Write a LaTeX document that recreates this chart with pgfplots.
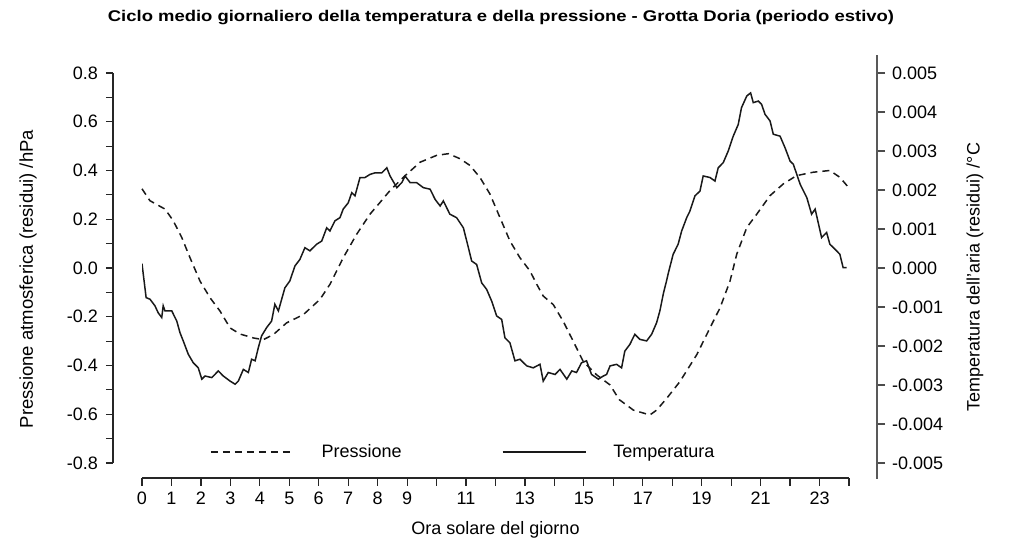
\documentclass[border=0pt]{standalone}
\usepackage{fontspec}
\setmainfont{Liberation Sans}
\usepackage{pgfplots}
\pgfplotsset{compat=1.18}
\usepackage{pgfplotstable}

\pgfplotstableread{
h p
0.00 0.325
0.27 0.276
0.67 0.249
0.78 0.242
1.06 0.194
1.35 0.125
1.63 0.042
1.97 -0.054
2.31 -0.122
2.65 -0.177
2.99 -0.246
3.33 -0.271
3.78 -0.287
4.12 -0.294
4.46 -0.273
4.91 -0.225
5.48 -0.191
6.04 -0.129
6.38 -0.067
6.83 0.042
7.29 0.139
7.74 0.221
8.08 0.269
8.42 0.318
8.87 0.372
9.44 0.434
10.00 0.462
10.40 0.469
10.80 0.448
11.13 0.421
11.47 0.372
11.81 0.304
12.15 0.207
12.49 0.111
12.83 0.042
13.17 -0.012
13.40 -0.067
13.62 -0.115
13.96 -0.150
14.30 -0.219
14.64 -0.301
14.98 -0.384
15.43 -0.438
15.89 -0.480
16.20 -0.540
16.68 -0.583
17.24 -0.603
17.47 -0.583
17.81 -0.535
18.26 -0.466
18.83 -0.356
19.28 -0.246
19.62 -0.164
19.96 -0.054
20.19 0.057
20.53 0.166
20.87 0.221
21.32 0.297
21.77 0.345
22.22 0.379
22.79 0.393
23.35 0.400
23.69 0.372
23.98 0.331
}\pressione

\pgfplotstableread{
h t
0.00 0.00011
0.14 -0.00076
0.27 -0.00080
0.44 -0.00097
0.55 -0.00115
0.67 -0.00127
0.72 -0.00097
0.78 -0.00110
1.01 -0.00110
1.18 -0.00136
1.29 -0.00166
1.40 -0.00187
1.57 -0.00221
1.74 -0.00243
1.91 -0.00256
2.03 -0.00285
2.14 -0.00277
2.37 -0.00281
2.59 -0.00264
2.76 -0.00277
2.99 -0.00290
3.16 -0.00298
3.27 -0.00290
3.44 -0.00260
3.61 -0.00268
3.72 -0.00234
3.84 -0.00238
3.95 -0.00204
4.06 -0.00174
4.23 -0.00153
4.40 -0.00136
4.51 -0.00093
4.63 -0.00110
4.85 -0.00051
5.02 -0.00033
5.19 0.00005
5.36 0.00022
5.53 0.00052
5.70 0.00044
5.93 0.00061
6.10 0.00069
6.27 0.00103
6.38 0.00095
6.55 0.00121
6.72 0.00129
6.83 0.00151
7.00 0.00167
7.12 0.00193
7.23 0.00185
7.40 0.00232
7.57 0.00232
7.74 0.00240
7.91 0.00244
8.14 0.00244
8.31 0.00257
8.42 0.00236
8.65 0.00206
8.82 0.00219
8.93 0.00236
9.10 0.00219
9.32 0.00219
9.55 0.00206
9.78 0.00202
9.95 0.00176
10.12 0.00159
10.23 0.00172
10.45 0.00138
10.68 0.00129
10.91 0.00103
11.08 0.00052
11.19 0.00018
11.36 0.00009
11.53 -0.00038
11.70 -0.00055
11.87 -0.00085
12.04 -0.00123
12.21 -0.00132
12.32 -0.00179
12.49 -0.00192
12.66 -0.00238
12.83 -0.00234
13.06 -0.00251
13.28 -0.00256
13.51 -0.00247
13.62 -0.00290
13.79 -0.00268
14.02 -0.00273
14.19 -0.00260
14.42 -0.00285
14.59 -0.00264
14.75 -0.00268
14.92 -0.00243
15.09 -0.00238
15.26 -0.00273
15.49 -0.00285
15.66 -0.00277
15.77 -0.00273
15.89 -0.00251
16.11 -0.00247
16.28 -0.00256
16.39 -0.00213
16.56 -0.00196
16.73 -0.00170
16.90 -0.00183
17.13 -0.00187
17.30 -0.00170
17.47 -0.00140
17.58 -0.00110
17.70 -0.00065
17.80 -0.00035
17.87 -0.00012
18.03 0.00035
18.20 0.00061
18.32 0.00095
18.49 0.00129
18.60 0.00146
18.77 0.00185
18.94 0.00197
19.05 0.00236
19.28 0.00232
19.45 0.00223
19.56 0.00257
19.73 0.00270
19.90 0.00300
20.07 0.00338
20.24 0.00368
20.35 0.00411
20.53 0.00441
20.66 0.00449
20.75 0.00424
20.92 0.00428
21.03 0.00420
21.15 0.00394
21.32 0.00377
21.43 0.00343
21.66 0.00338
21.83 0.00308
22.00 0.00274
22.11 0.00266
22.34 0.00215
22.57 0.00180
22.73 0.00138
22.85 0.00151
23.07 0.00078
23.24 0.00091
23.35 0.00061
23.58 0.00044
23.69 0.00035
23.80 0.00001
23.92 0.00001
}\temperatura

\begin{document}
\begin{tikzpicture}[x=1pt,y=1pt]
\useasboundingbox (0,0) rectangle (1017,545);
\pgfplotsset{every axis/.append style={scale only axis,
  font=\fontsize{18}{21}\selectfont,
  /pgf/number format/assume math mode=true}}

% pressure data
\begin{axis}[at={(142pt,82pt)}, anchor=south west, width=707pt, height=390pt,
  xmin=0, xmax=24, ymin=-0.8, ymax=0.8, hide axis, clip=false,
  legend columns=2,
  legend image code/.code={\draw[#1] (0pt,0pt) -- (83pt,0pt);},
  legend style={at={(0.0962,0.0282)}, anchor=west, draw=none, fill=none,
    inner sep=0pt, font=\fontsize{18}{21}\selectfont,
    /tikz/every odd column/.append style={column sep=27pt},
    /tikz/every even column/.append style={column sep=100pt},
    nodes={inner sep=0pt}}]
\addplot[black!90, line width=1.5pt, dash pattern=on 7pt off 5pt] table[x=h,y=p]{\pressione};
\addlegendentry{Pressione}
\addlegendimage{black!90, line width=1.5pt}
\addlegendentry{Temperatura}
\end{axis}

% temperature data
\begin{axis}[at={(142pt,82pt)}, anchor=south west, width=707pt, height=390pt,
  xmin=0, xmax=24, ymin=-0.005, ymax=0.005, hide axis]
\addplot[black!90, line width=1.5pt] table[x=h,y=t]{\temperatura};
\end{axis}

% left y axis
\begin{axis}[at={(113pt,82pt)}, anchor=south west, width=10pt, height=390pt,
  xmin=0, xmax=1, ymin=-0.8, ymax=0.8,
  axis y line*=left, hide x axis,
  ytick={-0.8,-0.6,-0.4,-0.2,0,0.2,0.4,0.6,0.8},
  yticklabels={-0.8,-0.6,-0.4,-0.2,0.0,0.2,0.4,0.6,0.8},
  minor ytick={-0.7,-0.5,-0.3,-0.1,0.1,0.3,0.5,0.7},
  tick align=outside, major tick length=7pt, minor tick length=7pt,
  every tick/.style={line width=1.2pt, black!85},
  axis line style={line width=1.5pt, black!85},
  yticklabel style={anchor=east, inner sep=0pt, xshift=-8pt}]
\end{axis}

% right y axis
\begin{axis}[at={(877pt,66.4pt)}, anchor=south east, width=10pt, height=423.15pt,
  xmin=0, xmax=1, ymin=-0.0054, ymax=0.00545,
  axis y line*=right, hide x axis, scaled y ticks=false,
  ytick={-0.005,-0.004,-0.003,-0.002,-0.001,0,0.001,0.002,0.003,0.004,0.005},
  yticklabels={-0.005,-0.004,-0.003,-0.002,-0.001,0.000,0.001,0.002,0.003,0.004,0.005},
  tick align=outside, major tick length=8pt,
  every tick/.style={line width=1.2pt, black!70},
  axis line style={line width=1.8pt, black!65},
  yticklabel style={anchor=west, inner sep=0pt, xshift=7pt}]
\end{axis}

% x axis
\begin{axis}[at={(142pt,67pt)}, anchor=south west, width=707pt, height=10pt,
  xmin=0, xmax=24, ymin=0, ymax=1,
  axis x line*=bottom, hide y axis,
  xtick={0,1,2,3,4,5,6,7,8,9,10,11,12,13,14,15,16,17,18,19,20,21,22,23,24},
  xticklabels={0,1,2,3,4,5,6,7,8,9,,11,,13,,15,,17,,19,,21,,23,},
  tick align=outside, major tick length=8pt,
  every tick/.style={line width=1.2pt, black!85},
  axis line style={line width=1.5pt, black!85},
  xticklabel style={anchor=north, inner sep=0pt, yshift=-6pt}]
\end{axis}

\node[font=\bfseries\fontsize{15.5}{18}\selectfont, xscale=1.19] at (501,527) {Ciclo medio giornaliero della temperatura e della pressione - Grotta Doria (periodo estivo)};
\node[font=\fontsize{18}{21}\selectfont] at (495.5,15) {Ora solare del giorno};
\node[font=\fontsize{18.5}{21}\selectfont, rotate=90] at (28,266) {Pressione atmosferica (residui) /hPa};
\node[font=\fontsize{18}{21}\selectfont, rotate=90] at (975,268) {Temperatura dell'aria (residui) /°C};
\end{tikzpicture}
\end{document}
